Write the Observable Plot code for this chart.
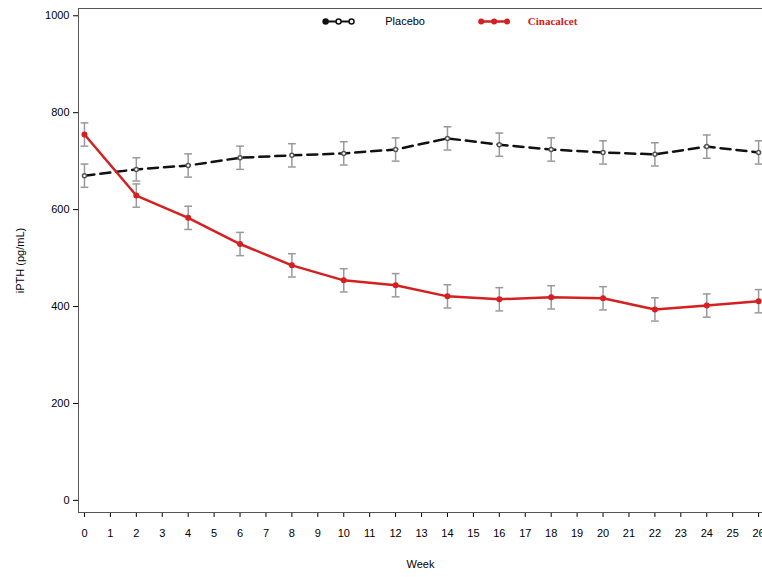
<!DOCTYPE html><html><head><meta charset="utf-8">
<script src="https://cdn.jsdelivr.net/npm/d3@7"></script>
<script src="https://cdn.jsdelivr.net/npm/@observablehq/plot@0.6"></script>
<style>body{margin:0;background:#fff}</style></head><body><div id="c"></div>
<script>
const weeks=[0,2,4,6,8,10,12,14,16,18,20,22,24,26];
const placebo=[670,683,691,707,712,716,724,747,734,724,718,714,730,718];
const cinacalcet=[755,629,583,529,485,454,444,421,415,419,417,394,402,411];
const err=24;
const rows=[];
weeks.forEach((w,i)=>{rows.push({w,v:placebo[i],s:"Placebo"});rows.push({w,v:cinacalcet[i],s:"Cinacalcet"});});
const P=rows.filter(d=>d.s==="Placebo"),C=rows.filter(d=>d.s==="Cinacalcet");
const caps=rows.flatMap(d=>[{w:d.w,v:d.v-err},{w:d.w,v:d.v+err}]);
const legP=[{x:9.3},{x:9.8},{x:10.3}],legC=[{x:15.3},{x:15.8},{x:16.3}];
const chart=Plot.plot({width:762,height:577,marginLeft:78,marginRight:0,marginTop:8,marginBottom:65,
style:{fontFamily:"Liberation Sans, Arial",fontSize:"11px",overflow:"visible"},
x:{domain:[-0.23,26.15],ticks:d3.range(0,27),tickFormat:d=>String(d),tickSize:5,label:"Week",labelAnchor:"center",labelOffset:55,labelArrow:"none",tickPadding:12},
y:{domain:[-25,1015],ticks:[0,200,400,600,800,1000],tickFormat:d=>String(d),tickSize:5,label:"iPTH (pg/mL)",labelAnchor:"center",labelOffset:62,labelArrow:"none"},
marks:[
Plot.frame({stroke:"#555"}),
Plot.ruleX(rows,{x:"w",y1:d=>d.v-err,y2:d=>d.v+err,stroke:"#999",strokeWidth:1.5}),
Plot.link(caps,{x1:d=>d.w-0.15,x2:d=>d.w+0.15,y1:"v",y2:"v",stroke:"#999",strokeWidth:1.5}),
Plot.line(P,{x:"w",y:"v",stroke:"#111",strokeWidth:2.5,strokeDasharray:"10,6"}),
Plot.dot(P,{x:"w",y:"v",r:2,fill:"white",stroke:"#555"}),
Plot.line(C,{x:"w",y:"v",stroke:"#d42020",strokeWidth:2.5}),
Plot.dot(C,{x:"w",y:"v",r:3,fill:"#d42020"}),
Plot.line(legP,{x:"x",y:()=>988,stroke:"#111",strokeWidth:2}),
Plot.dot(legP,{x:"x",y:()=>988,r:2.5,fill:(d,i)=>i===0?"#111":"white",stroke:"#111"}),
Plot.line(legC,{x:"x",y:()=>988,stroke:"#d42020",strokeWidth:2.5}),
Plot.dot(legC,{x:"x",y:()=>988,r:3,fill:"#d42020"}),
Plot.text(["Placebo"],{x:11.6,y:988,text:d=>d,textAnchor:"start",fontSize:11}),
Plot.text(["Cinacalcet"],{x:17.1,y:988,text:d=>d,textAnchor:"start",fill:"#d42020",fontWeight:"bold",fontFamily:"Liberation Serif",fontSize:11})
]});
document.getElementById("c").append(chart);
</script></body></html>
